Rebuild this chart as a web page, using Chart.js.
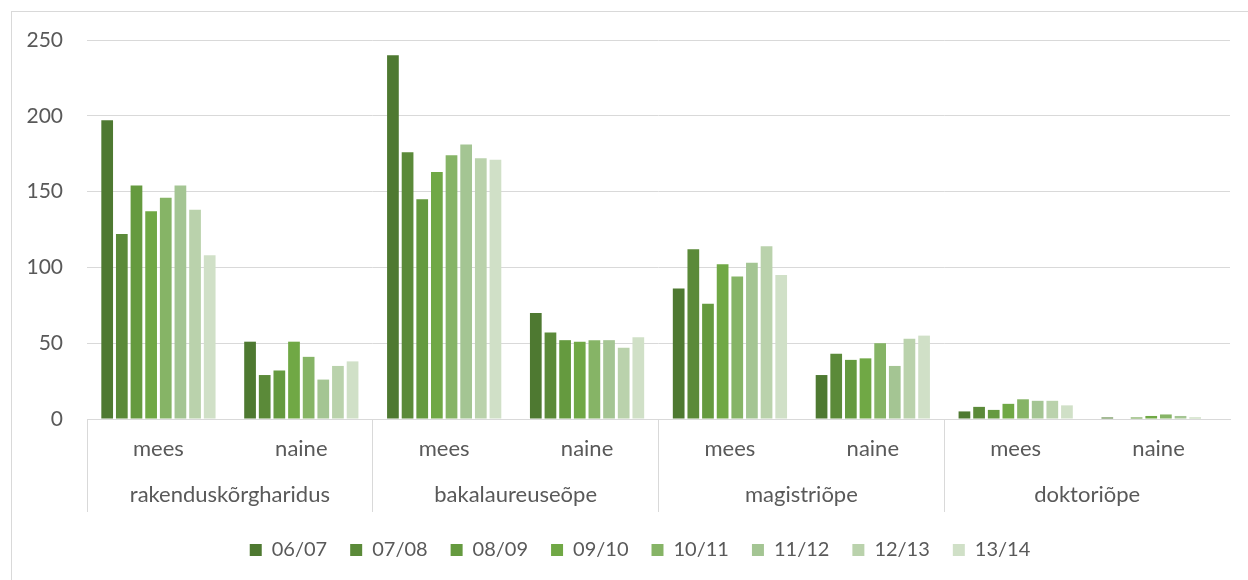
<!DOCTYPE html>
<html lang="et">
<head>
<meta charset="utf-8">
<title>Üliõpilased õppetaseme ja soo järgi</title>
<script src="https://cdn.jsdelivr.net/npm/chart.js@4/dist/chart.umd.min.js"></script>
<style>
    html, body { margin: 0; padding: 0; background: #ffffff; }
    #wrap { position: relative; width: 1248px; height: 580px; overflow: hidden; }
    #frame { position: absolute; left: 11px; top: 11px; width: 1300px; height: 700px; border: 1px solid #d9d9d9; box-sizing: border-box; }
    #chart { position: absolute; left: 0; top: 0; }
</style>
</head>
<body>
<div id="wrap">
    <div id="frame"></div>
    <canvas id="chart" width="1248" height="580"></canvas>
</div>
<script>
// Kategooriad (sugu) ja grupid (õppetase)
const categories = ['mees', 'naine', 'mees', 'naine', 'mees', 'naine', 'mees', 'naine'];
const groups = ['rakenduskõrgharidus', 'bakalaureuseõpe', 'magistriõpe', 'doktoriõpe'];

// Õppeaastad
const seasons = ['06/07', '07/08', '08/09', '09/10', '10/11', '11/12', '12/13', '13/14'];

// Väärtused iga õppeaasta kohta (järjekord nagu categories)
const v0607 = [197, 51, 240, 70, 86, 29, 5, 1];
const v0708 = [122, 29, 176, 57, 112, 43, 8, 0];
const v0809 = [154, 32, 145, 52, 76, 39, 6, 1];
const v0910 = [137, 51, 163, 51, 102, 40, 10, 2];
const v1011 = [146, 41, 174, 52, 94, 50, 13, 3];
const v1112 = [154, 26, 181, 52, 103, 35, 12, 2];
const v1213 = [138, 35, 172, 47, 114, 53, 12, 1];
const v1314 = [108, 38, 171, 54, 95, 55, 9, 0];

// Y-telje jaotised
const yTicks = [0, 50, 100, 150, 200, 250];

const seriesValues = [v0607, v0708, v0809, v0910, v1011, v1112, v1213, v1314];
const seriesColors = ['#4e7931', '#5b8a39', '#659a3f', '#70a845', '#86b466', '#a4c593', '#bad2ac', '#d0e0c7'];

const textColor = '#595959';
const lineColor = '#d9d9d9';
const fontFamily = 'Lato, "Open Sans", sans-serif';

// Legend on Excelis kogu kaardi keskel, mitte joonise keskel -> nihutame veidi paremale
const legendShift = {
    id: 'legendShift',
    afterLayout(chart) {
        chart.legend.left += 25;
        chart.legend.right += 25;
    }
};

const ctx = document.getElementById('chart').getContext('2d');

new Chart(ctx, {
    type: 'bar',
    data: {
        labels: categories,
        datasets: seasons.map((s, i) => ({
            label: s,
            data: seriesValues[i],
            backgroundColor: seriesColors[i],
            borderWidth: 0,
            categoryPercentage: 0.82,
            barPercentage: 0.8
        }))
    },
    options: {
        responsive: false,
        animation: false,
        devicePixelRatio: 1,
        layout: { padding: { top: 40, right: 18, bottom: 10, left: 0 } },
        plugins: {
            tooltip: { enabled: false },
            legend: {
                position: 'bottom',
                labels: {
                    boxWidth: 12,
                    boxHeight: 12,
                    padding: 23,
                    color: textColor,
                    font: { family: fontFamily, size: 20 }
                }
            }
        },
        scales: {
            y: {
                min: 0,
                max: 250,
                afterBuildTicks: s => { s.ticks = yTicks.map(v => ({ value: v })); },
                afterFit: s => { s.width = 87; },
                border: { display: false },
                grid: { color: lineColor, lineWidth: 1, drawTicks: false },
                ticks: { color: textColor, padding: 24, font: { family: fontFamily, size: 21 } }
            },
            x: {
                offset: true,
                afterFit: s => { s.height = 42; },
                border: { display: true, color: lineColor, width: 1 },
                grid: {
                    offset: true,
                    drawOnChartArea: false,
                    tickLength: 93,
                    // eraldusjoon ainult õppetasemete vahel
                    color: c => (c.index % 2 === 0 ? lineColor : 'rgba(0,0,0,0)'),
                    lineWidth: 1
                },
                ticks: { color: textColor, padding: -76, maxRotation: 0, autoSkip: false, font: { family: fontFamily, size: 22 } }
            },
            x2: {
                type: 'category',
                position: 'bottom',
                labels: groups,
                offset: true,
                afterFit: s => { s.height = 56; },
                border: { display: false },
                grid: { display: false, drawTicks: false },
                ticks: { color: textColor, padding: 21, maxRotation: 0, autoSkip: false, font: { family: fontFamily, size: 22 } }
            }
        }
    },
    plugins: [legendShift]
});
</script>
</body>
</html>
